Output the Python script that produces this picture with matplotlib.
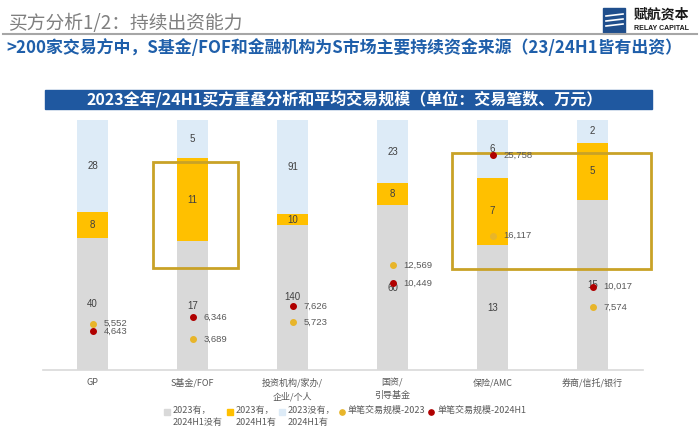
#!/usr/bin/env python3
"""
Buyer overlap analysis 2023 / 24H1: stacked share bars + avg deal size dots.
"""

import matplotlib
matplotlib.use('Agg')
import matplotlib.pyplot as plt
from matplotlib.patches import Rectangle
from matplotlib.lines import Line2D
import numpy as np

plt.rcParams['font.family'] = ['Noto Sans CJK SC', 'DejaVu Sans']

# Data
categories = ['GP', 'S基金/FOF', '投资机构/家办/\n企业/个人', '国资/\n引导基金', '保险/AMC', '券商/信托/银行']
only_2023 = [40, 17, 140, 60, 13, 15]      # 2023有，2024H1没有
both_years = [8, 11, 10, 8, 7, 5]          # 2023有，2024H1有
only_24h1 = [28, 5, 91, 23, 6, 2]          # 2023没有，2024H1有
deal_size_2023 = [5552, 3689, 5723, 12569, 16117, 7574]
deal_size_24h1 = [4643, 6346, 7626, 10449, 25758, 10017]

legend_labels = ['2023有，\n2024H1没有', '2023有，\n2024H1有', '2023没有，\n2024H1有',
                 '单笔交易规模-2023', '单笔交易规模-2024H1']

# Colours
C_GRAY = '#D9D9D9'
C_ORANGE = '#FFC000'
C_BLUE = '#DDEBF7'
C_DOT23 = '#E8B52A'
C_DOT24 = '#B00000'
C_BOX = '#C9A227'
NUM_FONT = ['Liberation Sans', 'Noto Sans CJK SC']

W, H = 700, 436
fig = plt.figure(figsize=(W / 100, H / 100), dpi=100)


def fx(px):
    return px / W


def fy(py):
    return 1 - py / H


# Header
fig.text(fx(8), fy(23), '买方分析1/2：持续出资能力', fontsize=13.5, color='#7F7F7F',
         va='center', ha='left')
fig.add_artist(Line2D([fx(3), fx(697)], [fy(34), fy(34)], color='#A6A6A6', lw=1.5))
fig.text(fx(6), fy(48), '>200家交易方中，S基金/FOF和金融机构为S市场主要持续资金来源（23/24H1皆有出资）',
         fontsize=12.2, color='#1F5FAA', fontweight='bold', va='center', ha='left')

# Logo
fig.add_artist(Rectangle((fx(603), fy(33)), fx(22), 25 / H, color='#1F4E8C'))
for k in range(3):
    fig.add_artist(Line2D([fx(606), fx(623)], [fy(16 + 5 * k), fy(14 + 5 * k)],
                          color='white', lw=1.2))
fig.text(fx(661), fy(15), '赋航资本', fontsize=10, fontweight='bold', color='#1A1A1A',
         ha='center', va='center')
fig.text(fx(661), fy(29), 'RELAY CAPITAL', fontsize=5, fontweight='bold', color='#1A1A1A',
         ha='center', va='center', family=NUM_FONT)

# Title band
fig.add_artist(Rectangle((fx(45), fy(109)), fx(607), 19 / H, color='#1F58A0'))
fig.text(fx(345), fy(99.5), '2023全年/24H1买方重叠分析和平均交易规模（单位：交易笔数、万元）',
         fontsize=11.5, fontweight='bold', color='white', ha='center', va='center')

# Main axes
ax = fig.add_axes([fx(42.5), fy(370), fx(600), 250 / H])
x = np.arange(len(categories))
g = np.array(only_2023, dtype=float)
o = np.array(both_years, dtype=float)
b = np.array(only_24h1, dtype=float)
tot = g + o + b
gf, of, bf = g / tot, o / tot, b / tot

bw = 0.31
ax.bar(x, gf, bw, color=C_GRAY, zorder=1)
ax.bar(x, of, bw, bottom=gf, color=C_ORANGE, zorder=1)
ax.bar(x, bf, bw, bottom=gf + of, color=C_BLUE, zorder=1)

for i in range(len(x)):
    ax.text(x[i], gf[i] / 2, f'{only_2023[i]}', ha='center', va='center', fontsize=7,
            color='#404040', family=NUM_FONT, zorder=3)
    ax.text(x[i], gf[i] + of[i] / 2, f'{both_years[i]}', ha='center', va='center',
            fontsize=7, color='#404040', family=NUM_FONT, zorder=3)
    ax.text(x[i], gf[i] + of[i] + bf[i] / 2, f'{only_24h1[i]}', ha='center', va='center',
            fontsize=7, color='#404040', family=NUM_FONT, zorder=3)

ax.set_xlim(-0.5, 5.5)
ax.set_ylim(0, 1)
ax.set_xticks(x)
ax.set_xticklabels(categories, fontsize=6.5, color='#595959', linespacing=1.5)
ax.tick_params(axis='x', length=0, pad=6)
ax.set_yticks([])
for s in ['top', 'right', 'left']:
    ax.spines[s].set_visible(False)
ax.spines['bottom'].set_color('#D9D9D9')
ax.spines['bottom'].set_linewidth(1.2)

# Highlight boxes
ax.add_patch(Rectangle((0.605, 0.408), 0.85, 0.424, fill=False, ec=C_BOX, lw=2,
                       zorder=4, clip_on=False))
ax.add_patch(Rectangle((3.595, 0.404), 1.99, 0.464, fill=False, ec=C_BOX, lw=2,
                       zorder=4, clip_on=False))

# Deal size dots on secondary axis
ax2 = ax.twinx()
ax2.set_ylim(0, 30000)
ax2.set_yticks([])
for s in ['top', 'right', 'left', 'bottom']:
    ax2.spines[s].set_visible(False)
ax2.scatter(x, deal_size_2023, s=16, color=C_DOT23, zorder=5)
ax2.scatter(x, deal_size_24h1, s=16, color=C_DOT24, zorder=5)
for i in range(len(x)):
    for v in (deal_size_2023[i], deal_size_24h1[i]):
        ax2.annotate(f'{v:,}', (x[i], v), xytext=(8, 0), textcoords='offset points',
                     ha='left', va='center', fontsize=6.8, color='#595959', family=NUM_FONT)

# Legend (drawn by hand so the marker sits on the first text line)
leg_items = [
    ('s', C_GRAY, 167),
    ('s', C_ORANGE, 230),
    ('s', C_BLUE, 282),
    ('o', C_DOT23, 342),
    ('o', C_DOT24, 431),
]
for (mk, col, px), label in zip(leg_items, legend_labels):
    fig.add_artist(Line2D([fx(px)], [fy(412)], ls='', marker=mk,
                          ms=4.5 if mk == 's' else 3.8, color=col))
    fig.text(fx(px + 6), fy(405.5), label, fontsize=6.5, color='#595959',
             ha='left', va='top', linespacing=1.45)

fig.savefig('out.png', dpi=100)
